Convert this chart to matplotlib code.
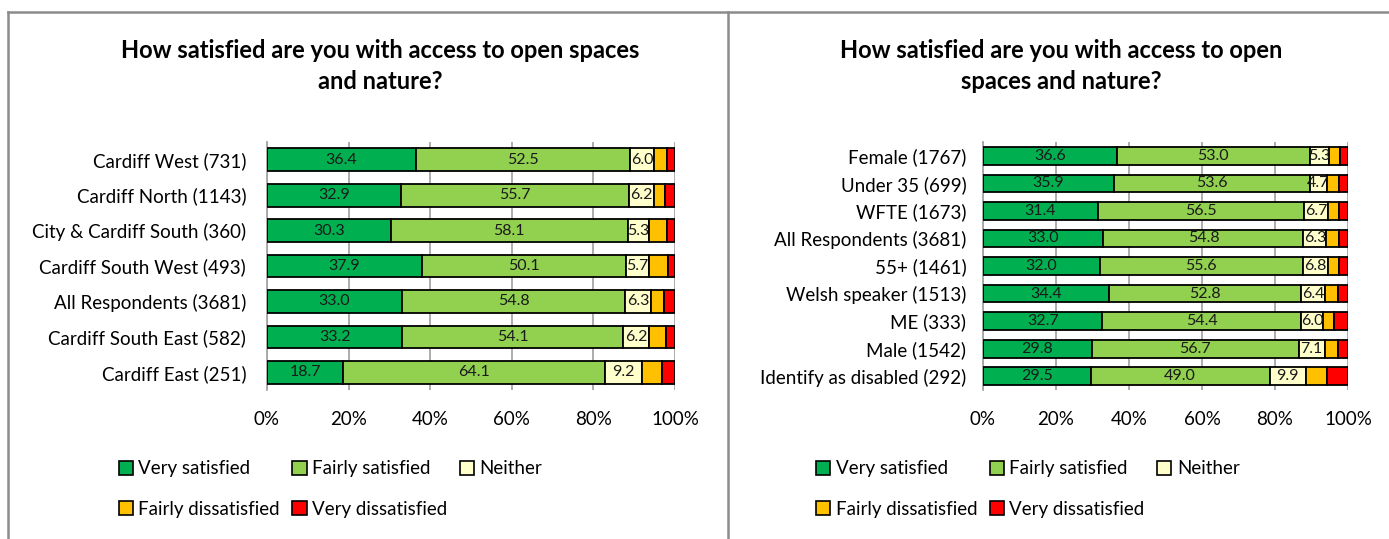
import matplotlib.pyplot as plt
from matplotlib.patches import Patch
from matplotlib.lines import Line2D
import numpy as np

plt.rcParams['font.family'] = ['Lato', 'DejaVu Sans']

# data
series = ['Very satisfied', 'Fairly satisfied', 'Neither', 'Fairly dissatisfied', 'Very dissatisfied']
colors = ['#00B050', '#92D050', '#FFFFCC', '#FFC000', '#FF0000']
title_left = 'How satisfied are you with access to open spaces\nand nature?'
title_right = 'How satisfied are you with access to open\nspaces and nature?'

areas = ['Cardiff West (731)', 'Cardiff North (1143)', 'City & Cardiff South (360)',
         'Cardiff South West (493)', 'All Respondents (3681)', 'Cardiff South East (582)',
         'Cardiff East (251)']
area_very_sat = [36.4, 32.9, 30.3, 37.9, 33.0, 33.2, 18.7]
area_fairly_sat = [52.5, 55.7, 58.1, 50.1, 54.8, 54.1, 64.1]
area_neither = [6.0, 6.2, 5.3, 5.7, 6.3, 6.2, 9.2]
area_fairly_dis = [3.1, 2.7, 4.3, 4.5, 3.2, 4.2, 4.7]
area_very_dis = [2.0, 2.5, 2.0, 1.8, 2.7, 2.3, 3.3]

groups = ['Female (1767)', 'Under 35 (699)', 'WFTE (1673)', 'All Respondents (3681)',
          '55+ (1461)', 'Welsh speaker (1513)', 'ME (333)', 'Male (1542)',
          'Identify as disabled (292)']
grp_very_sat = [36.6, 35.9, 31.4, 33.0, 32.0, 34.4, 32.7, 29.8, 29.5]
grp_fairly_sat = [53.0, 53.6, 56.5, 54.8, 55.6, 52.8, 54.4, 56.7, 49.0]
grp_neither = [5.3, 4.7, 6.7, 6.3, 6.8, 6.4, 6.0, 7.1, 9.9]
grp_fairly_dis = [3.0, 3.2, 3.0, 3.4, 3.1, 3.7, 3.0, 3.7, 5.8]
grp_very_dis = [2.1, 2.6, 2.4, 2.5, 2.5, 2.7, 3.9, 2.7, 5.8]

fig = plt.figure(figsize=(13.89, 5.39), dpi=100)


def draw(ax, labels, vals, title, title_x, ypad):
    y = np.arange(len(labels))
    left = np.zeros(len(labels))
    for i, (v, c) in enumerate(zip(vals, colors)):
        v = np.array(v)
        bars = ax.barh(y, v, left=left, height=0.64, color=c, edgecolor='black',
                       linewidth=1.3, zorder=3)
        if i < 3:
            ax.bar_label(bars, labels=[f'{x:.1f}' for x in v], label_type='center',
                         fontsize=11.5, color='#1a1a1a', zorder=4)
        left += v
    ax.set_ylim(len(labels) - 0.5, -0.5)
    ax.set_xlim(0, 100)
    ax.set_xticks(np.arange(0, 101, 20))
    ax.set_xticklabels([f'{t}%' for t in range(0, 101, 20)], fontsize=13.5)
    ax.set_yticks(y)
    ax.set_yticklabels(labels, fontsize=13.5)
    ax.tick_params(length=0)
    ax.tick_params(axis='y', pad=ypad)
    ax.tick_params(axis='x', pad=15)
    ax.grid(axis='x', color='#A6A6A6', linewidth=1.3, zorder=0)
    for s in ['top', 'right', 'bottom']:
        ax.spines[s].set_visible(False)
    ax.spines['left'].set_color('#A6A6A6')
    ax.spines['left'].set_linewidth(1.3)
    fig.text(title_x, 0.928, title, ha='center', va='top', fontsize=17,
             fontweight='bold', linespacing=1.45)
    handles = [Patch(facecolor=colors[k], edgecolor='black', linewidth=1.2, label=series[k])
               for k in [0, 3, 1, 4, 2]]
    return handles


ax1 = fig.add_axes([0.1922, 0.2764, 0.2938, 0.4601])
h = draw(ax1, areas, [area_very_sat, area_fairly_sat, area_neither, area_fairly_dis, area_very_dis],
         title_left, 0.274, 15)
fig.legend(handles=h, ncol=3, loc='upper left', bbox_to_anchor=(0.080, 0.16), frameon=False,
           fontsize=13.5, handlelength=0.75, handleheight=0.75, handletextpad=0.3,
           columnspacing=0.67, labelspacing=1.25, borderaxespad=0)

ax2 = fig.add_axes([0.7077, 0.2764, 0.2628, 0.4601])
h = draw(ax2, groups, [grp_very_sat, grp_fairly_sat, grp_neither, grp_fairly_dis, grp_very_dis],
         title_right, 0.764, 12)
fig.legend(handles=h, ncol=3, loc='upper left', bbox_to_anchor=(0.582, 0.16), frameon=False,
           fontsize=13.5, handlelength=0.75, handleheight=0.75, handletextpad=0.3,
           columnspacing=0.67, labelspacing=1.25, borderaxespad=0)

# panel borders
bc = '#8C8C8C'
fig.add_artist(Line2D([8 / 1389, 1], [1 - 12 / 539] * 2, color=bc, linewidth=1.8))
fig.add_artist(Line2D([8 / 1389] * 2, [0, 1 - 12 / 539], color=bc, linewidth=1.8))
fig.add_artist(Line2D([728 / 1389] * 2, [0, 1 - 12 / 539], color=bc, linewidth=1.8))

fig.savefig('out.png', dpi=100)
